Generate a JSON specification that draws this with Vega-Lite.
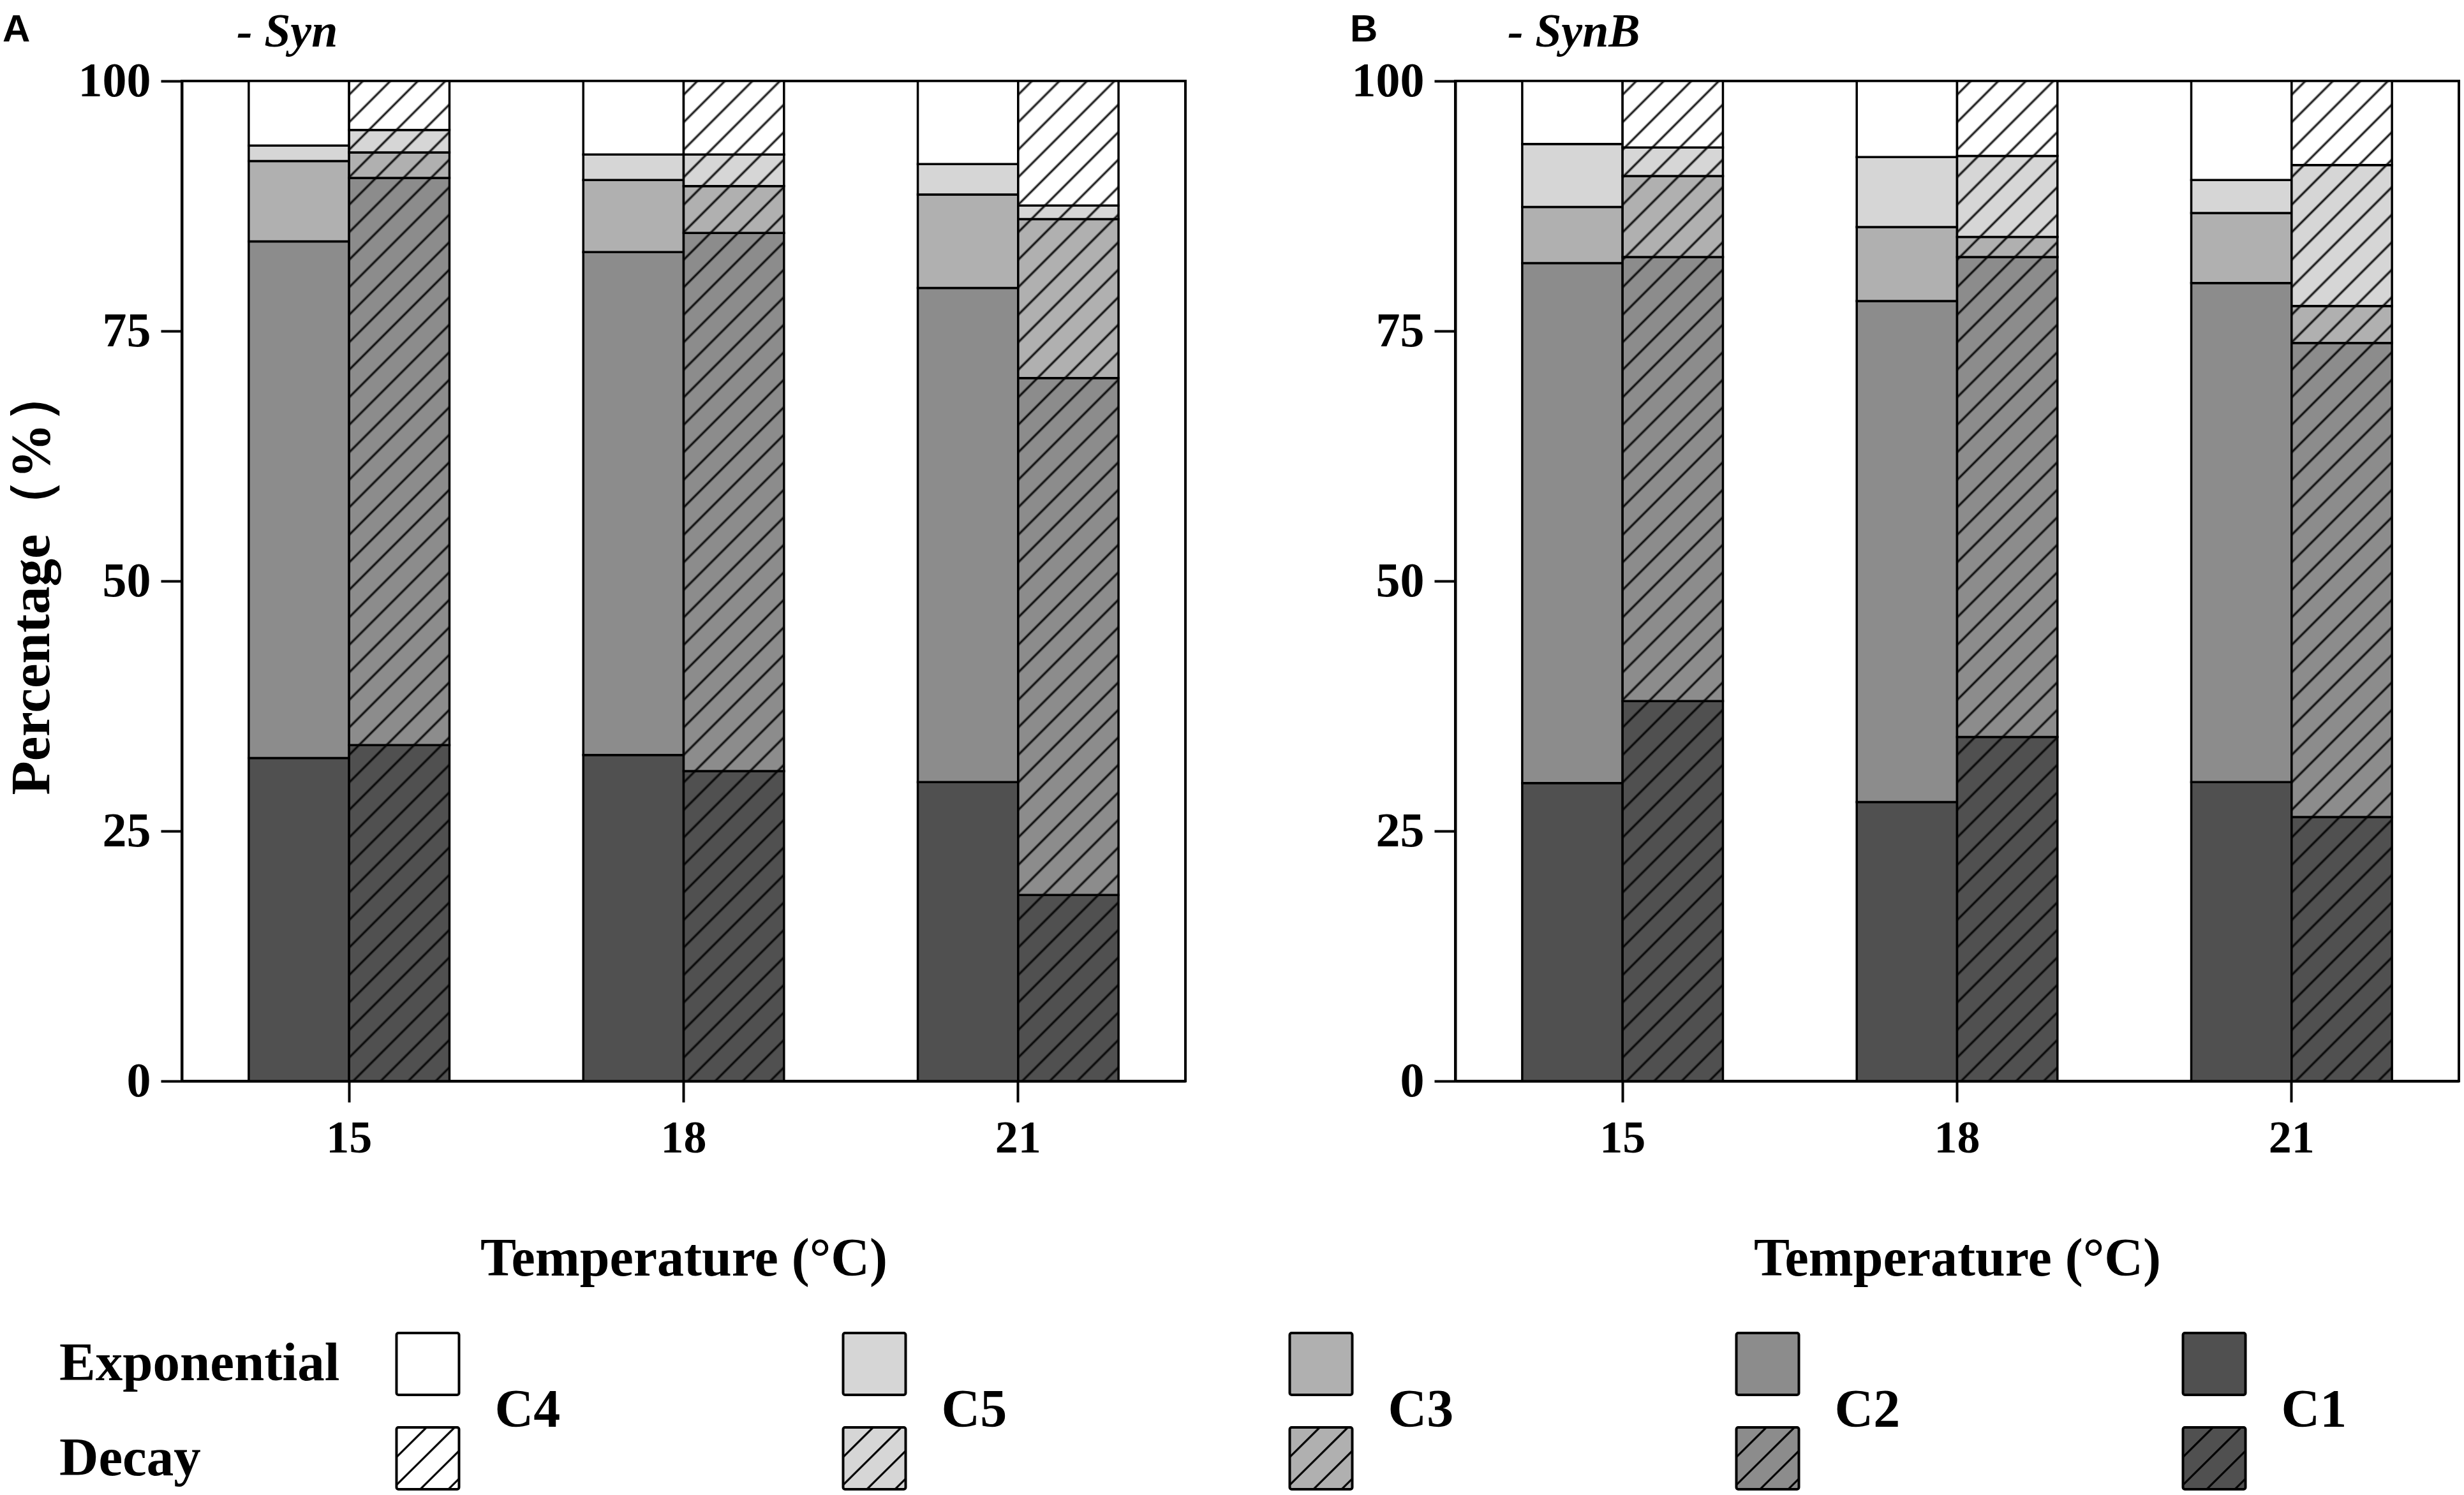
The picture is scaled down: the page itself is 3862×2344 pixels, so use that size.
{
  "$schema": "https://vega.github.io/schema/vega-lite/v6.json",
  "padding": {"left": 4, "top": 12, "right": 0, "bottom": 0},
  "background": "white",
  "config": {
    "font": "Liberation Serif",
    "view": {"stroke": "#000", "strokeWidth": 4},
    "axis": {
      "domainColor": "#000", "domainWidth": 4, "tickColor": "#000", "tickWidth": 4, "tickSize": 33,
      "labelFont": "Liberation Serif", "labelFontWeight": "bold", "labelColor": "#000",
      "titleFont": "Liberation Serif", "titleFontWeight": "bold", "titleColor": "#000", "grid": false
    }
  },
  "datasets": {
    "bars": [
      {"panel": "A", "temp": 15, "type": "Exponential", "class": "C1", "value": 32.3},
      {"panel": "A", "temp": 15, "type": "Exponential", "class": "C2", "value": 51.66},
      {"panel": "A", "temp": 15, "type": "Exponential", "class": "C3", "value": 8.04},
      {"panel": "A", "temp": 15, "type": "Exponential", "class": "C5", "value": 1.55},
      {"panel": "A", "temp": 15, "type": "Exponential", "class": "C4", "value": 6.45},
      {"panel": "A", "temp": 15, "type": "Decay", "class": "C1", "value": 33.6},
      {"panel": "A", "temp": 15, "type": "Decay", "class": "C2", "value": 56.7},
      {"panel": "A", "temp": 15, "type": "Decay", "class": "C3", "value": 2.56},
      {"panel": "A", "temp": 15, "type": "Decay", "class": "C5", "value": 2.24},
      {"panel": "A", "temp": 15, "type": "Decay", "class": "C4", "value": 4.9},
      {"panel": "A", "temp": 18, "type": "Exponential", "class": "C1", "value": 32.6},
      {"panel": "A", "temp": 18, "type": "Exponential", "class": "C2", "value": 50.3},
      {"panel": "A", "temp": 18, "type": "Exponential", "class": "C3", "value": 7.2},
      {"panel": "A", "temp": 18, "type": "Exponential", "class": "C5", "value": 2.55},
      {"panel": "A", "temp": 18, "type": "Exponential", "class": "C4", "value": 7.35},
      {"panel": "A", "temp": 18, "type": "Decay", "class": "C1", "value": 31.0},
      {"panel": "A", "temp": 18, "type": "Decay", "class": "C2", "value": 53.8},
      {"panel": "A", "temp": 18, "type": "Decay", "class": "C3", "value": 4.7},
      {"panel": "A", "temp": 18, "type": "Decay", "class": "C5", "value": 3.15},
      {"panel": "A", "temp": 18, "type": "Decay", "class": "C4", "value": 7.35},
      {"panel": "A", "temp": 21, "type": "Exponential", "class": "C1", "value": 29.9},
      {"panel": "A", "temp": 21, "type": "Exponential", "class": "C2", "value": 49.4},
      {"panel": "A", "temp": 21, "type": "Exponential", "class": "C3", "value": 9.35},
      {"panel": "A", "temp": 21, "type": "Exponential", "class": "C5", "value": 3.05},
      {"panel": "A", "temp": 21, "type": "Exponential", "class": "C4", "value": 8.3},
      {"panel": "A", "temp": 21, "type": "Decay", "class": "C1", "value": 18.6},
      {"panel": "A", "temp": 21, "type": "Decay", "class": "C2", "value": 51.7},
      {"panel": "A", "temp": 21, "type": "Decay", "class": "C3", "value": 15.9},
      {"panel": "A", "temp": 21, "type": "Decay", "class": "C5", "value": 1.35},
      {"panel": "A", "temp": 21, "type": "Decay", "class": "C4", "value": 12.45},
      {"panel": "B", "temp": 15, "type": "Exponential", "class": "C1", "value": 29.8},
      {"panel": "B", "temp": 15, "type": "Exponential", "class": "C2", "value": 52.0},
      {"panel": "B", "temp": 15, "type": "Exponential", "class": "C3", "value": 5.6},
      {"panel": "B", "temp": 15, "type": "Exponential", "class": "C5", "value": 6.3},
      {"panel": "B", "temp": 15, "type": "Exponential", "class": "C4", "value": 6.3},
      {"panel": "B", "temp": 15, "type": "Decay", "class": "C1", "value": 38.0},
      {"panel": "B", "temp": 15, "type": "Decay", "class": "C2", "value": 44.4},
      {"panel": "B", "temp": 15, "type": "Decay", "class": "C3", "value": 8.1},
      {"panel": "B", "temp": 15, "type": "Decay", "class": "C5", "value": 2.85},
      {"panel": "B", "temp": 15, "type": "Decay", "class": "C4", "value": 6.65},
      {"panel": "B", "temp": 18, "type": "Exponential", "class": "C1", "value": 27.9},
      {"panel": "B", "temp": 18, "type": "Exponential", "class": "C2", "value": 50.1},
      {"panel": "B", "temp": 18, "type": "Exponential", "class": "C3", "value": 7.4},
      {"panel": "B", "temp": 18, "type": "Exponential", "class": "C5", "value": 7.0},
      {"panel": "B", "temp": 18, "type": "Exponential", "class": "C4", "value": 7.6},
      {"panel": "B", "temp": 18, "type": "Decay", "class": "C1", "value": 34.4},
      {"panel": "B", "temp": 18, "type": "Decay", "class": "C2", "value": 48.0},
      {"panel": "B", "temp": 18, "type": "Decay", "class": "C3", "value": 2.0},
      {"panel": "B", "temp": 18, "type": "Decay", "class": "C5", "value": 8.1},
      {"panel": "B", "temp": 18, "type": "Decay", "class": "C4", "value": 7.5},
      {"panel": "B", "temp": 21, "type": "Exponential", "class": "C1", "value": 29.9},
      {"panel": "B", "temp": 21, "type": "Exponential", "class": "C2", "value": 49.9},
      {"panel": "B", "temp": 21, "type": "Exponential", "class": "C3", "value": 7.0},
      {"panel": "B", "temp": 21, "type": "Exponential", "class": "C5", "value": 3.3},
      {"panel": "B", "temp": 21, "type": "Exponential", "class": "C4", "value": 9.9},
      {"panel": "B", "temp": 21, "type": "Decay", "class": "C1", "value": 26.4},
      {"panel": "B", "temp": 21, "type": "Decay", "class": "C2", "value": 47.4},
      {"panel": "B", "temp": 21, "type": "Decay", "class": "C3", "value": 3.7},
      {"panel": "B", "temp": 21, "type": "Decay", "class": "C5", "value": 14.1},
      {"panel": "B", "temp": 21, "type": "Decay", "class": "C4", "value": 8.4}
    ],
    "legend": [
      {"class": "C4", "type": "Exponential"}, {"class": "C4", "type": "Decay"},
      {"class": "C5", "type": "Exponential"}, {"class": "C5", "type": "Decay"},
      {"class": "C3", "type": "Exponential"}, {"class": "C3", "type": "Decay"},
      {"class": "C2", "type": "Exponential"}, {"class": "C2", "type": "Decay"},
      {"class": "C1", "type": "Exponential"}, {"class": "C1", "type": "Decay"}
    ]
  },
  "vconcat": [
    {
      "hconcat": [
        {
          "title": {"text": "A", "anchor": "start", "frame": "bounds", "font": "Liberation Sans", "fontSize": 60, "fontWeight": "bold", "color": "#000", "offset": -66},
          "vconcat": [
            {
              "width": 1573, "height": 1568,
              "data": {"name": "bars"},
              "title": {"text": "- Syn", "anchor": "start", "frame": "group", "dx": 86, "font": "Liberation Serif", "fontSize": 74, "fontStyle": "italic", "fontWeight": "bold", "color": "#000", "offset": 0},
              "transform": [
                {"filter": "datum.panel == 'A'"},
                {"calculate": "indexof(['C1','C2','C3','C5','C4'], datum.class)", "as": "stack_order"}
              ],
              "encoding": {
                "x": {"field": "temp", "type": "ordinal", "scale": {"paddingInner": 0.4, "paddingOuter": 0.2},
                      "axis": {"title": "Temperature (°C)", "labelAngle": 0, "labelFontSize": 72, "labelPadding": 21, "titleFontSize": 84, "titlePadding": 113}},
                "xOffset": {"field": "type", "type": "nominal", "scale": {"domain": ["Exponential", "Decay"], "paddingInner": 0, "paddingOuter": 0}}
              },
              "layer": [
                {
                  "mark": {"type": "bar", "stroke": "#000", "strokeWidth": 3.5},
                  "encoding": {
                    "y": {"field": "value", "type": "quantitative", "stack": "zero", "scale": {"domain": [0, 100]}, "title": "Percentage（%）",
                          "axis": {"values": [0, 25, 50, 75, 100], "labelFontSize": 76, "labelPadding": 16, "titleFontSize": 87, "titlePadding": 28}},
                    "fill": {"field": "class", "type": "nominal", "scale": {"domain": ["C4", "C5", "C3", "C2", "C1"], "range": ["#ffffff", "#d6d6d6", "#b0b0b0", "#8c8c8c", "#505050"]}, "legend": null},
                    "order": {"field": "stack_order", "type": "quantitative"}
                  }
                },
                {
                  "transform": [{"filter": "datum.type == 'Decay'"}],
                  "mark": {"type": "bar", "strokeWidth": 0, "fill": {"gradient": "linear", "x1": 0, "y1": 0, "x2": 0.1093, "y2": 1.0894, "stops": [
                    {"offset": 0.0101, "color": "rgba(0,0,0,0)"}, {"offset": 0.0125, "color": "#000"}, {"offset": 0.0149, "color": "rgba(0,0,0,0)"},
                    {"offset": 0.0351, "color": "rgba(0,0,0,0)"}, {"offset": 0.0375, "color": "#000"}, {"offset": 0.0399, "color": "rgba(0,0,0,0)"},
                    {"offset": 0.0601, "color": "rgba(0,0,0,0)"}, {"offset": 0.0625, "color": "#000"}, {"offset": 0.0649, "color": "rgba(0,0,0,0)"},
                    {"offset": 0.0851, "color": "rgba(0,0,0,0)"}, {"offset": 0.0875, "color": "#000"}, {"offset": 0.0899, "color": "rgba(0,0,0,0)"},
                    {"offset": 0.1101, "color": "rgba(0,0,0,0)"}, {"offset": 0.1125, "color": "#000"}, {"offset": 0.1149, "color": "rgba(0,0,0,0)"},
                    {"offset": 0.1351, "color": "rgba(0,0,0,0)"}, {"offset": 0.1375, "color": "#000"}, {"offset": 0.1399, "color": "rgba(0,0,0,0)"},
                    {"offset": 0.1601, "color": "rgba(0,0,0,0)"}, {"offset": 0.1625, "color": "#000"}, {"offset": 0.1649, "color": "rgba(0,0,0,0)"},
                    {"offset": 0.1851, "color": "rgba(0,0,0,0)"}, {"offset": 0.1875, "color": "#000"}, {"offset": 0.1899, "color": "rgba(0,0,0,0)"},
                    {"offset": 0.2101, "color": "rgba(0,0,0,0)"}, {"offset": 0.2125, "color": "#000"}, {"offset": 0.2149, "color": "rgba(0,0,0,0)"},
                    {"offset": 0.2351, "color": "rgba(0,0,0,0)"}, {"offset": 0.2375, "color": "#000"}, {"offset": 0.2399, "color": "rgba(0,0,0,0)"},
                    {"offset": 0.2601, "color": "rgba(0,0,0,0)"}, {"offset": 0.2625, "color": "#000"}, {"offset": 0.2649, "color": "rgba(0,0,0,0)"},
                    {"offset": 0.2851, "color": "rgba(0,0,0,0)"}, {"offset": 0.2875, "color": "#000"}, {"offset": 0.2899, "color": "rgba(0,0,0,0)"},
                    {"offset": 0.3101, "color": "rgba(0,0,0,0)"}, {"offset": 0.3125, "color": "#000"}, {"offset": 0.3149, "color": "rgba(0,0,0,0)"},
                    {"offset": 0.3351, "color": "rgba(0,0,0,0)"}, {"offset": 0.3375, "color": "#000"}, {"offset": 0.3399, "color": "rgba(0,0,0,0)"},
                    {"offset": 0.3601, "color": "rgba(0,0,0,0)"}, {"offset": 0.3625, "color": "#000"}, {"offset": 0.3649, "color": "rgba(0,0,0,0)"},
                    {"offset": 0.3851, "color": "rgba(0,0,0,0)"}, {"offset": 0.3875, "color": "#000"}, {"offset": 0.3899, "color": "rgba(0,0,0,0)"},
                    {"offset": 0.4101, "color": "rgba(0,0,0,0)"}, {"offset": 0.4125, "color": "#000"}, {"offset": 0.4149, "color": "rgba(0,0,0,0)"},
                    {"offset": 0.4351, "color": "rgba(0,0,0,0)"}, {"offset": 0.4375, "color": "#000"}, {"offset": 0.4399, "color": "rgba(0,0,0,0)"},
                    {"offset": 0.4601, "color": "rgba(0,0,0,0)"}, {"offset": 0.4625, "color": "#000"}, {"offset": 0.4649, "color": "rgba(0,0,0,0)"},
                    {"offset": 0.4851, "color": "rgba(0,0,0,0)"}, {"offset": 0.4875, "color": "#000"}, {"offset": 0.4899, "color": "rgba(0,0,0,0)"},
                    {"offset": 0.5101, "color": "rgba(0,0,0,0)"}, {"offset": 0.5125, "color": "#000"}, {"offset": 0.5149, "color": "rgba(0,0,0,0)"},
                    {"offset": 0.5351, "color": "rgba(0,0,0,0)"}, {"offset": 0.5375, "color": "#000"}, {"offset": 0.5399, "color": "rgba(0,0,0,0)"},
                    {"offset": 0.5601, "color": "rgba(0,0,0,0)"}, {"offset": 0.5625, "color": "#000"}, {"offset": 0.5649, "color": "rgba(0,0,0,0)"},
                    {"offset": 0.5851, "color": "rgba(0,0,0,0)"}, {"offset": 0.5875, "color": "#000"}, {"offset": 0.5899, "color": "rgba(0,0,0,0)"},
                    {"offset": 0.6101, "color": "rgba(0,0,0,0)"}, {"offset": 0.6125, "color": "#000"}, {"offset": 0.6149, "color": "rgba(0,0,0,0)"},
                    {"offset": 0.6351, "color": "rgba(0,0,0,0)"}, {"offset": 0.6375, "color": "#000"}, {"offset": 0.6399, "color": "rgba(0,0,0,0)"},
                    {"offset": 0.6601, "color": "rgba(0,0,0,0)"}, {"offset": 0.6625, "color": "#000"}, {"offset": 0.6649, "color": "rgba(0,0,0,0)"},
                    {"offset": 0.6851, "color": "rgba(0,0,0,0)"}, {"offset": 0.6875, "color": "#000"}, {"offset": 0.6899, "color": "rgba(0,0,0,0)"},
                    {"offset": 0.7101, "color": "rgba(0,0,0,0)"}, {"offset": 0.7125, "color": "#000"}, {"offset": 0.7149, "color": "rgba(0,0,0,0)"},
                    {"offset": 0.7351, "color": "rgba(0,0,0,0)"}, {"offset": 0.7375, "color": "#000"}, {"offset": 0.7399, "color": "rgba(0,0,0,0)"},
                    {"offset": 0.7601, "color": "rgba(0,0,0,0)"}, {"offset": 0.7625, "color": "#000"}, {"offset": 0.7649, "color": "rgba(0,0,0,0)"},
                    {"offset": 0.7851, "color": "rgba(0,0,0,0)"}, {"offset": 0.7875, "color": "#000"}, {"offset": 0.7899, "color": "rgba(0,0,0,0)"},
                    {"offset": 0.8101, "color": "rgba(0,0,0,0)"}, {"offset": 0.8125, "color": "#000"}, {"offset": 0.8149, "color": "rgba(0,0,0,0)"},
                    {"offset": 0.8351, "color": "rgba(0,0,0,0)"}, {"offset": 0.8375, "color": "#000"}, {"offset": 0.8399, "color": "rgba(0,0,0,0)"},
                    {"offset": 0.8601, "color": "rgba(0,0,0,0)"}, {"offset": 0.8625, "color": "#000"}, {"offset": 0.8649, "color": "rgba(0,0,0,0)"},
                    {"offset": 0.8851, "color": "rgba(0,0,0,0)"}, {"offset": 0.8875, "color": "#000"}, {"offset": 0.8899, "color": "rgba(0,0,0,0)"},
                    {"offset": 0.9101, "color": "rgba(0,0,0,0)"}, {"offset": 0.9125, "color": "#000"}, {"offset": 0.9149, "color": "rgba(0,0,0,0)"},
                    {"offset": 0.9351, "color": "rgba(0,0,0,0)"}, {"offset": 0.9375, "color": "#000"}, {"offset": 0.9399, "color": "rgba(0,0,0,0)"},
                    {"offset": 0.9601, "color": "rgba(0,0,0,0)"}, {"offset": 0.9625, "color": "#000"}, {"offset": 0.9649, "color": "rgba(0,0,0,0)"},
                    {"offset": 0.9851, "color": "rgba(0,0,0,0)"}, {"offset": 0.9875, "color": "#000"}, {"offset": 0.9899, "color": "rgba(0,0,0,0)"}
                  ]}},
                  "encoding": {
                    "y": {"aggregate": "sum", "field": "value", "type": "quantitative", "stack": null, "title": "Percentage（%）"}
                  }
                }
              ]
            }
          ]
        },
        {
          "title": {"text": "B", "anchor": "start", "frame": "bounds", "font": "Liberation Sans", "fontSize": 60, "fontWeight": "bold", "color": "#000", "offset": -66},
          "vconcat": [
            {
              "width": 1573, "height": 1568,
              "data": {"name": "bars"},
              "title": {"text": "- SynB", "anchor": "start", "frame": "group", "dx": 82, "font": "Liberation Serif", "fontSize": 74, "fontStyle": "italic", "fontWeight": "bold", "color": "#000", "offset": 0},
              "transform": [
                {"filter": "datum.panel == 'B'"},
                {"calculate": "indexof(['C1','C2','C3','C5','C4'], datum.class)", "as": "stack_order"}
              ],
              "encoding": {
                "x": {"field": "temp", "type": "ordinal", "scale": {"paddingInner": 0.4, "paddingOuter": 0.2},
                      "axis": {"title": "Temperature (°C)", "labelAngle": 0, "labelFontSize": 72, "labelPadding": 21, "titleFontSize": 84, "titlePadding": 113}},
                "xOffset": {"field": "type", "type": "nominal", "scale": {"domain": ["Exponential", "Decay"], "paddingInner": 0, "paddingOuter": 0}}
              },
              "layer": [
                {
                  "mark": {"type": "bar", "stroke": "#000", "strokeWidth": 3.5},
                  "encoding": {
                    "y": {"field": "value", "type": "quantitative", "stack": "zero", "scale": {"domain": [0, 100]}, "title": null,
                          "axis": {"values": [0, 25, 50, 75, 100], "labelFontSize": 76, "labelPadding": 16}},
                    "fill": {"field": "class", "type": "nominal", "scale": {"domain": ["C4", "C5", "C3", "C2", "C1"], "range": ["#ffffff", "#d6d6d6", "#b0b0b0", "#8c8c8c", "#505050"]}, "legend": null},
                    "order": {"field": "stack_order", "type": "quantitative"}
                  }
                },
                {
                  "transform": [{"filter": "datum.type == 'Decay'"}],
                  "mark": {"type": "bar", "strokeWidth": 0, "fill": {"gradient": "linear", "x1": 0, "y1": 0, "x2": 0.1093, "y2": 1.0894, "stops": [
                    {"offset": 0.0101, "color": "rgba(0,0,0,0)"}, {"offset": 0.0125, "color": "#000"}, {"offset": 0.0149, "color": "rgba(0,0,0,0)"},
                    {"offset": 0.0351, "color": "rgba(0,0,0,0)"}, {"offset": 0.0375, "color": "#000"}, {"offset": 0.0399, "color": "rgba(0,0,0,0)"},
                    {"offset": 0.0601, "color": "rgba(0,0,0,0)"}, {"offset": 0.0625, "color": "#000"}, {"offset": 0.0649, "color": "rgba(0,0,0,0)"},
                    {"offset": 0.0851, "color": "rgba(0,0,0,0)"}, {"offset": 0.0875, "color": "#000"}, {"offset": 0.0899, "color": "rgba(0,0,0,0)"},
                    {"offset": 0.1101, "color": "rgba(0,0,0,0)"}, {"offset": 0.1125, "color": "#000"}, {"offset": 0.1149, "color": "rgba(0,0,0,0)"},
                    {"offset": 0.1351, "color": "rgba(0,0,0,0)"}, {"offset": 0.1375, "color": "#000"}, {"offset": 0.1399, "color": "rgba(0,0,0,0)"},
                    {"offset": 0.1601, "color": "rgba(0,0,0,0)"}, {"offset": 0.1625, "color": "#000"}, {"offset": 0.1649, "color": "rgba(0,0,0,0)"},
                    {"offset": 0.1851, "color": "rgba(0,0,0,0)"}, {"offset": 0.1875, "color": "#000"}, {"offset": 0.1899, "color": "rgba(0,0,0,0)"},
                    {"offset": 0.2101, "color": "rgba(0,0,0,0)"}, {"offset": 0.2125, "color": "#000"}, {"offset": 0.2149, "color": "rgba(0,0,0,0)"},
                    {"offset": 0.2351, "color": "rgba(0,0,0,0)"}, {"offset": 0.2375, "color": "#000"}, {"offset": 0.2399, "color": "rgba(0,0,0,0)"},
                    {"offset": 0.2601, "color": "rgba(0,0,0,0)"}, {"offset": 0.2625, "color": "#000"}, {"offset": 0.2649, "color": "rgba(0,0,0,0)"},
                    {"offset": 0.2851, "color": "rgba(0,0,0,0)"}, {"offset": 0.2875, "color": "#000"}, {"offset": 0.2899, "color": "rgba(0,0,0,0)"},
                    {"offset": 0.3101, "color": "rgba(0,0,0,0)"}, {"offset": 0.3125, "color": "#000"}, {"offset": 0.3149, "color": "rgba(0,0,0,0)"},
                    {"offset": 0.3351, "color": "rgba(0,0,0,0)"}, {"offset": 0.3375, "color": "#000"}, {"offset": 0.3399, "color": "rgba(0,0,0,0)"},
                    {"offset": 0.3601, "color": "rgba(0,0,0,0)"}, {"offset": 0.3625, "color": "#000"}, {"offset": 0.3649, "color": "rgba(0,0,0,0)"},
                    {"offset": 0.3851, "color": "rgba(0,0,0,0)"}, {"offset": 0.3875, "color": "#000"}, {"offset": 0.3899, "color": "rgba(0,0,0,0)"},
                    {"offset": 0.4101, "color": "rgba(0,0,0,0)"}, {"offset": 0.4125, "color": "#000"}, {"offset": 0.4149, "color": "rgba(0,0,0,0)"},
                    {"offset": 0.4351, "color": "rgba(0,0,0,0)"}, {"offset": 0.4375, "color": "#000"}, {"offset": 0.4399, "color": "rgba(0,0,0,0)"},
                    {"offset": 0.4601, "color": "rgba(0,0,0,0)"}, {"offset": 0.4625, "color": "#000"}, {"offset": 0.4649, "color": "rgba(0,0,0,0)"},
                    {"offset": 0.4851, "color": "rgba(0,0,0,0)"}, {"offset": 0.4875, "color": "#000"}, {"offset": 0.4899, "color": "rgba(0,0,0,0)"},
                    {"offset": 0.5101, "color": "rgba(0,0,0,0)"}, {"offset": 0.5125, "color": "#000"}, {"offset": 0.5149, "color": "rgba(0,0,0,0)"},
                    {"offset": 0.5351, "color": "rgba(0,0,0,0)"}, {"offset": 0.5375, "color": "#000"}, {"offset": 0.5399, "color": "rgba(0,0,0,0)"},
                    {"offset": 0.5601, "color": "rgba(0,0,0,0)"}, {"offset": 0.5625, "color": "#000"}, {"offset": 0.5649, "color": "rgba(0,0,0,0)"},
                    {"offset": 0.5851, "color": "rgba(0,0,0,0)"}, {"offset": 0.5875, "color": "#000"}, {"offset": 0.5899, "color": "rgba(0,0,0,0)"},
                    {"offset": 0.6101, "color": "rgba(0,0,0,0)"}, {"offset": 0.6125, "color": "#000"}, {"offset": 0.6149, "color": "rgba(0,0,0,0)"},
                    {"offset": 0.6351, "color": "rgba(0,0,0,0)"}, {"offset": 0.6375, "color": "#000"}, {"offset": 0.6399, "color": "rgba(0,0,0,0)"},
                    {"offset": 0.6601, "color": "rgba(0,0,0,0)"}, {"offset": 0.6625, "color": "#000"}, {"offset": 0.6649, "color": "rgba(0,0,0,0)"},
                    {"offset": 0.6851, "color": "rgba(0,0,0,0)"}, {"offset": 0.6875, "color": "#000"}, {"offset": 0.6899, "color": "rgba(0,0,0,0)"},
                    {"offset": 0.7101, "color": "rgba(0,0,0,0)"}, {"offset": 0.7125, "color": "#000"}, {"offset": 0.7149, "color": "rgba(0,0,0,0)"},
                    {"offset": 0.7351, "color": "rgba(0,0,0,0)"}, {"offset": 0.7375, "color": "#000"}, {"offset": 0.7399, "color": "rgba(0,0,0,0)"},
                    {"offset": 0.7601, "color": "rgba(0,0,0,0)"}, {"offset": 0.7625, "color": "#000"}, {"offset": 0.7649, "color": "rgba(0,0,0,0)"},
                    {"offset": 0.7851, "color": "rgba(0,0,0,0)"}, {"offset": 0.7875, "color": "#000"}, {"offset": 0.7899, "color": "rgba(0,0,0,0)"},
                    {"offset": 0.8101, "color": "rgba(0,0,0,0)"}, {"offset": 0.8125, "color": "#000"}, {"offset": 0.8149, "color": "rgba(0,0,0,0)"},
                    {"offset": 0.8351, "color": "rgba(0,0,0,0)"}, {"offset": 0.8375, "color": "#000"}, {"offset": 0.8399, "color": "rgba(0,0,0,0)"},
                    {"offset": 0.8601, "color": "rgba(0,0,0,0)"}, {"offset": 0.8625, "color": "#000"}, {"offset": 0.8649, "color": "rgba(0,0,0,0)"},
                    {"offset": 0.8851, "color": "rgba(0,0,0,0)"}, {"offset": 0.8875, "color": "#000"}, {"offset": 0.8899, "color": "rgba(0,0,0,0)"},
                    {"offset": 0.9101, "color": "rgba(0,0,0,0)"}, {"offset": 0.9125, "color": "#000"}, {"offset": 0.9149, "color": "rgba(0,0,0,0)"},
                    {"offset": 0.9351, "color": "rgba(0,0,0,0)"}, {"offset": 0.9375, "color": "#000"}, {"offset": 0.9399, "color": "rgba(0,0,0,0)"},
                    {"offset": 0.9601, "color": "rgba(0,0,0,0)"}, {"offset": 0.9625, "color": "#000"}, {"offset": 0.9649, "color": "rgba(0,0,0,0)"},
                    {"offset": 0.9851, "color": "rgba(0,0,0,0)"}, {"offset": 0.9875, "color": "#000"}, {"offset": 0.9899, "color": "rgba(0,0,0,0)"}
                  ]}},
                  "encoding": {
                    "y": {"aggregate": "sum", "field": "value", "type": "quantitative", "stack": null, "title": null}
                  }
                }
              ]
            }
          ]
        }
      ],
      "spacing": 256
    },
    {
      "width": 3412, "height": 245,
      "view": {"stroke": null},
      "data": {"name": "legend"},
      "encoding": {
        "x": {"field": "class", "type": "nominal", "scale": {"domain": ["C4", "C5", "C3", "C2", "C1"], "paddingInner": 0.86, "paddingOuter": 0.3671}, "axis": null}
      },
      "layer": [
        {
          "mark": {"type": "rect", "stroke": "#000", "strokeWidth": 4, "cornerRadius": 3},
          "encoding": {
            "y": {"field": "type", "type": "nominal", "scale": {"domain": ["Exponential", "Decay"], "paddingInner": 0.3446, "paddingOuter": 0},
                  "axis": {"title": null, "domain": false, "ticks": false, "tickSize": 0, "labelAlign": "left", "labelBaseline": "middle", "labelPadding": 272, "labelFontSize": 85, "labelLimit": 0}},
            "fill": {"field": "class", "type": "nominal", "scale": {"domain": ["C4", "C5", "C3", "C2", "C1"], "range": ["#ffffff", "#d6d6d6", "#b0b0b0", "#8c8c8c", "#505050"]}, "legend": null}
          }
        },
        {
          "transform": [{"filter": "datum.type == 'Decay'"}],
          "mark": {"type": "rect", "strokeWidth": 0, "fill": {"gradient": "linear", "x1": 0, "y1": 0, "x2": 1, "y2": 1, "stops": [
            {"offset": 0.224, "color": "rgba(0,0,0,0)"}, {"offset": 0.233, "color": "#000"}, {"offset": 0.247, "color": "#000"}, {"offset": 0.256, "color": "rgba(0,0,0,0)"},
            {"offset": 0.449, "color": "rgba(0,0,0,0)"}, {"offset": 0.458, "color": "#000"}, {"offset": 0.472, "color": "#000"}, {"offset": 0.481, "color": "rgba(0,0,0,0)"},
            {"offset": 0.674, "color": "rgba(0,0,0,0)"}, {"offset": 0.683, "color": "#000"}, {"offset": 0.697, "color": "#000"}, {"offset": 0.706, "color": "rgba(0,0,0,0)"},
            {"offset": 0.899, "color": "rgba(0,0,0,0)"}, {"offset": 0.908, "color": "#000"}, {"offset": 0.922, "color": "#000"}, {"offset": 0.931, "color": "rgba(0,0,0,0)"}
          ]}},
          "encoding": {
            "y": {"field": "type", "type": "nominal"}
          }
        },
        {
          "transform": [{"filter": "datum.type == 'Exponential'"}],
          "mark": {"type": "text", "align": "left", "baseline": "middle", "dx": 56, "dy": 25, "font": "Liberation Serif", "fontSize": 84, "fontWeight": "bold", "color": "#000"},
          "encoding": {
            "x": {"field": "class", "type": "nominal", "bandPosition": 1},
            "y": {"datum": "Exponential", "type": "nominal", "bandPosition": 1},
            "text": {"field": "class", "type": "nominal"}
          }
        }
      ]
    }
  ],
  "spacing": 70,
  "center": true
}
